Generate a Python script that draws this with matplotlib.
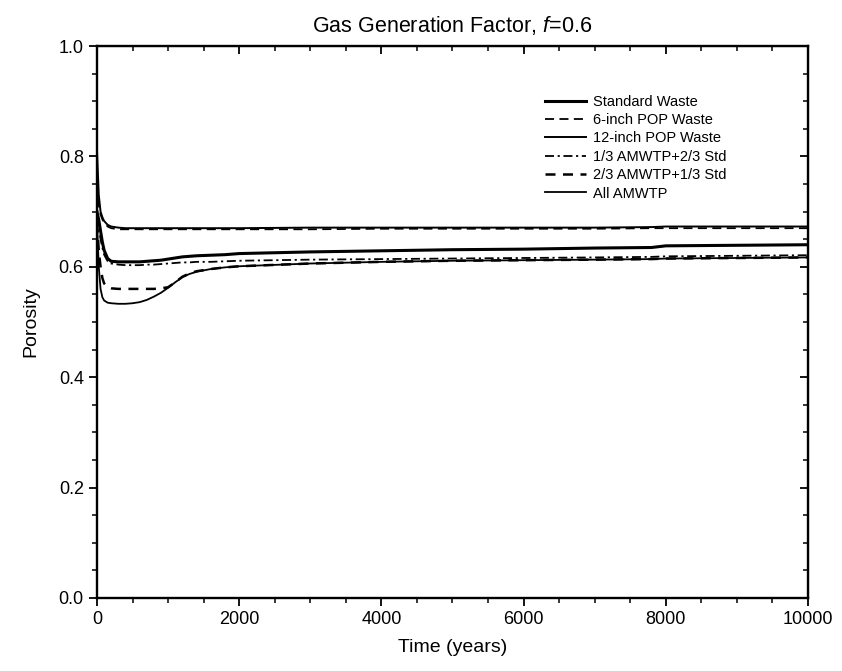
import matplotlib
matplotlib.use("Agg")
import matplotlib.pyplot as plt
from matplotlib.ticker import MultipleLocator

plt.rcParams['font.family'] = ['Liberation Sans', 'DejaVu Sans']
plt.rcParams['mathtext.fontset'] = 'custom'
plt.rcParams['mathtext.it'] = 'Liberation Sans:italic'
plt.rcParams['mathtext.rm'] = 'Liberation Sans'

# time (years)
t = [0, 25, 50, 75, 100, 150, 200, 300, 400, 500, 600, 700, 800, 900, 1000, 1100, 1200,
     1300, 1400, 1600, 1800, 2000, 3000, 4000, 5000, 6000, 7000, 7800, 8000, 9000, 10000]

std_waste = [0.70, 0.685, 0.665, 0.645, 0.63, 0.615, 0.610, 0.609, 0.609, 0.609, 0.609, 0.610,
             0.611, 0.612, 0.614, 0.616, 0.618, 0.619, 0.620, 0.621, 0.622, 0.624,
             0.627, 0.629, 0.631, 0.632, 0.634, 0.635, 0.638, 0.639, 0.640]
pop6 = [0.75, 0.71, 0.695, 0.686, 0.68, 0.673, 0.670, 0.668, 0.668, 0.668, 0.668, 0.668,
        0.668, 0.668, 0.668, 0.668, 0.668, 0.668, 0.668, 0.668, 0.668, 0.668,
        0.668, 0.669, 0.669, 0.669, 0.669, 0.670, 0.670, 0.670, 0.670]
pop12 = [0.81, 0.73, 0.70, 0.69, 0.683, 0.676, 0.673, 0.671, 0.670, 0.670, 0.670, 0.670,
         0.670, 0.670, 0.670, 0.670, 0.670, 0.670, 0.670, 0.670, 0.670, 0.670,
         0.671, 0.671, 0.671, 0.671, 0.671, 0.672, 0.673, 0.673, 0.673]
amw13 = [0.69, 0.67, 0.65, 0.635, 0.622, 0.610, 0.606, 0.604, 0.603, 0.603, 0.603, 0.604,
         0.604, 0.605, 0.606, 0.607, 0.608, 0.608, 0.609, 0.609, 0.610, 0.611,
         0.613, 0.614, 0.615, 0.616, 0.617, 0.618, 0.619, 0.620, 0.621]
amw23 = [0.68, 0.63, 0.60, 0.58, 0.570, 0.563, 0.561, 0.560, 0.560, 0.560, 0.560, 0.560,
         0.560, 0.561, 0.563, 0.572, 0.582, 0.588, 0.592, 0.596, 0.599, 0.601,
         0.606, 0.609, 0.611, 0.612, 0.613, 0.614, 0.615, 0.616, 0.617]
all_amw = [0.68, 0.60, 0.56, 0.545, 0.539, 0.535, 0.534, 0.533, 0.533, 0.534, 0.536, 0.540,
           0.546, 0.553, 0.562, 0.572, 0.581, 0.587, 0.591, 0.596, 0.599, 0.601,
           0.606, 0.609, 0.611, 0.612, 0.613, 0.614, 0.615, 0.616, 0.617]

fig = plt.figure(figsize=(8.42, 6.71), dpi=100)
ax = fig.add_axes([0.1152, 0.1088, 0.8444, 0.8226])

ax.plot(t, std_waste, color="black", lw=2.2, label="Standard Waste")
ax.plot(t, pop6, color="black", lw=1.3, ls=(0, (5, 3)), label="6-inch POP Waste")
ax.plot(t, pop12, color="black", lw=1.4, label="12-inch POP Waste")
ax.plot(t, amw13, color="black", lw=1.3, ls=(0, (5, 2, 1.2, 2)), label="1/3 AMWTP+2/3 Std")
ax.plot(t, amw23, color="black", lw=1.8, ls=(0, (4, 3)), label="2/3 AMWTP+1/3 Std")
ax.plot(t, all_amw, color="black", lw=1.3, label="All AMWTP")

ax.set_xlim(0, 10000)
ax.set_ylim(0, 1.0)
ax.xaxis.set_major_locator(MultipleLocator(2000))
ax.xaxis.set_minor_locator(MultipleLocator(500))
ax.yaxis.set_major_locator(MultipleLocator(0.2))
ax.yaxis.set_minor_locator(MultipleLocator(0.05))
ax.yaxis.set_major_formatter(plt.FormatStrFormatter('%.1f'))
ax.tick_params(which='major', direction='out', length=6, width=1.3, labelsize=13)
ax.tick_params(which='minor', direction='out', length=3.5, width=1.1)
for s in ax.spines.values():
    s.set_linewidth(1.7)

# inward ticks on top and right
top = ax.secondary_xaxis('top')
top.xaxis.set_major_locator(MultipleLocator(2000))
top.xaxis.set_minor_locator(MultipleLocator(500))
top.tick_params(which='major', direction='in', length=6, width=1.3, labeltop=False)
top.tick_params(which='minor', direction='in', length=3.5, width=1.1)
right = ax.secondary_yaxis('right')
right.yaxis.set_major_locator(MultipleLocator(0.2))
right.yaxis.set_minor_locator(MultipleLocator(0.05))
right.tick_params(which='major', direction='in', length=6, width=1.3, labelright=False)
right.tick_params(which='minor', direction='in', length=3.5, width=1.1)

ax.set_xlabel("Time (years)", fontsize=14, labelpad=8)
ax.set_ylabel("Porosity", fontsize=14, labelpad=14)
ax.set_title("Gas Generation Factor, $\\it{f}$=0.6", fontsize=15.5, pad=10)

ax.legend(loc='upper left', bbox_to_anchor=(0.62, 0.925), frameon=False, fontsize=10.5,
          handlelength=2.8, handletextpad=0.5, labelspacing=0.3, borderpad=0)

plt.savefig("out.png", dpi=100)
